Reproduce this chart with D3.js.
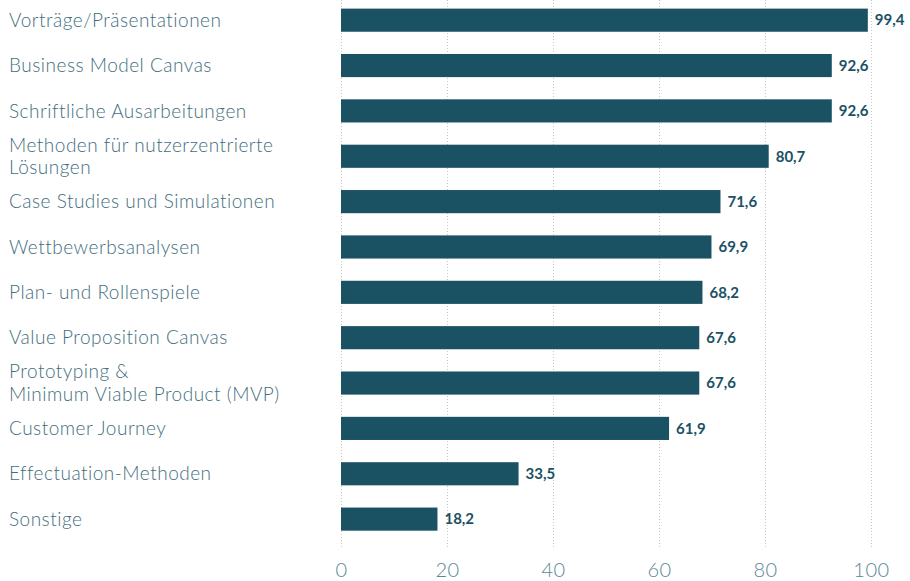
<!DOCTYPE html>
<html>
<head>
<meta charset="utf-8">
<script src="https://cdn.jsdelivr.net/npm/d3@7"></script>
<style>
  body { margin: 0; background: #fff; }
  text { font-family: Lato, "Open Sans", sans-serif; }
</style>
</head>
<body>
<div id="chart"></div>
<script>
// chart data
var categories = [
    "Vorträge/Präsentationen",
    "Business Model Canvas",
    "Schriftliche Ausarbeitungen",
    "Methoden für nutzerzentrierte|Lösungen",
    "Case Studies und Simulationen",
    "Wettbewerbsanalysen",
    "Plan- und Rollenspiele",
    "Value Proposition Canvas",
    "Prototyping &|Minimum Viable Product (MVP)",
    "Customer Journey",
    "Effectuation-Methoden",
    "Sonstige"
];
var values = [99.4, 92.6, 92.6, 80.7, 71.6, 69.9, 68.2, 67.6, 67.6, 61.9, 33.5, 18.2];
var tickValues = [0, 20, 40, 60, 80, 100];

var svgWidth = 910;
var svgHeight = 581;
var barColor = "#1a5163";

var svg = d3.select("#chart")
    .append("svg")
    .attr("width", svgWidth)
    .attr("height", svgHeight);

// scales
var xScale = d3.scaleLinear().domain([0, 100]).range([341, 871]);
var yScale = d3.scaleBand()
    .domain(categories)
    .range([-2.5, 541.8])
    .paddingInner(0.49)
    .paddingOuter(0.245);

// dotted grid lines
svg.append("g")
    .selectAll("line")
    .data(tickValues)
    .enter()
    .append("line")
    .attr("x1", d => xScale(d) + 0.5)
    .attr("x2", d => xScale(d) + 0.5)
    .attr("y1", 0)
    .attr("y2", 548)
    .attr("stroke", "#c8c8c8")
    .attr("stroke-width", 1)
    .attr("stroke-dasharray", "1,2");

// bottom axis, labels only
var bottomAxis = d3.axisBottom(xScale).tickValues(tickValues).tickSize(0).tickPadding(0);
var axisG = svg.append("g")
    .attr("transform", "translate(0, 560)")
    .call(bottomAxis);
axisG.select(".domain").remove();
axisG.selectAll("text")
    .attr("dy", "0.85em")
    .attr("fill", "#5a8796")
    .attr("font-size", "20px")
    .attr("font-weight", 300)
    .style("font-family", "Lato, sans-serif")
    .style("letter-spacing", "0.5px");

// bars
svg.append("g")
    .selectAll("rect")
    .data(values)
    .enter()
    .append("rect")
    .attr("x", xScale(0))
    .attr("y", (d, i) => yScale(categories[i]))
    .attr("width", d => xScale(d) - xScale(0))
    .attr("height", yScale.bandwidth())
    .attr("fill", barColor);

// value labels
svg.append("g")
    .selectAll("text")
    .data(values)
    .enter()
    .append("text")
    .attr("x", d => xScale(d) + 7)
    .attr("y", (d, i) => yScale(categories[i]) + yScale.bandwidth() / 2)
    .attr("dy", "0.35em")
    .attr("fill", barColor)
    .attr("font-size", "15px")
    .attr("font-weight", 700)
    .text(d => d.toFixed(1).replace(".", ","));

// category labels
var labels = svg.append("g")
    .selectAll("text")
    .data(categories)
    .enter()
    .append("text")
    .attr("x", 9)
    .attr("y", d => yScale(d) + yScale.bandwidth() / 2)
    .attr("fill", "#3f6e7d")
    .attr("font-size", "19px")
    .attr("font-weight", 300)
    .style("letter-spacing", "0.5px");

labels.each(function(d) {
    var lines = d.split("|");
    var el = d3.select(this);
    lines.forEach(function(line, j) {
        el.append("tspan")
            .attr("x", 9)
            .attr("dy", j === 0 ? (0.35 - (lines.length - 1) * 0.6) + "em" : "1.2em")
            .text(line);
    });
});
</script>
</body>
</html>
